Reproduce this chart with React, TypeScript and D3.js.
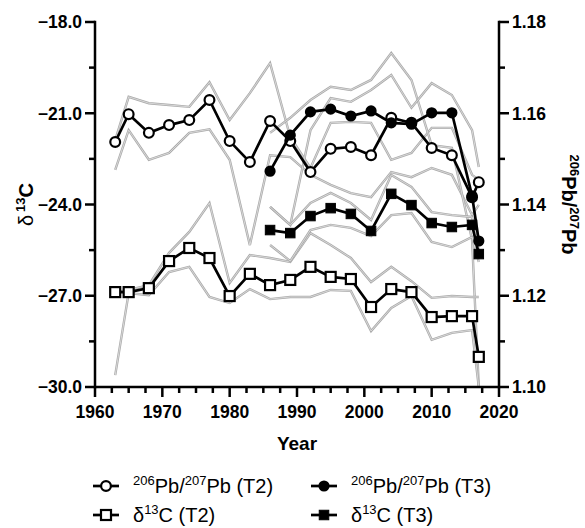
import React from "react";
import * as d3 from "d3";

// ---- data ----
const yearsT2 = [1963, 1965, 1968, 1971, 1974, 1977, 1980, 1983, 1986, 1989, 1992, 1995, 1998, 2001, 2004, 2007, 2010, 2013, 2016, 2017];
const yearsT3 = [1986, 1989, 1992, 1995, 1998, 2001, 2004, 2007, 2010, 2013, 2016, 2017];

const pbT2 = [1.1537, 1.1598, 1.1557, 1.1574, 1.1585, 1.1629, 1.1539, 1.1493, 1.1583, 1.1539, 1.1471, 1.1522, 1.1526, 1.1508, 1.159, 1.1579, 1.1524, 1.1508, 1.1416, 1.1449];
const pbT3 = [1.1473, 1.1552, 1.1603, 1.1609, 1.1594, 1.1605, 1.1579, 1.1576, 1.1601, 1.1601, 1.1419, 1.132];
const d13cT2 = [-26.88, -26.88, -26.75, -25.86, -25.43, -25.76, -27.01, -26.28, -26.65, -26.48, -26.05, -26.38, -26.45, -27.37, -26.78, -26.88, -27.7, -27.67, -27.67, -29.01];
const d13cT3 = [-24.84, -24.94, -24.38, -24.12, -24.31, -24.87, -23.65, -24.02, -24.61, -24.74, -24.67, -25.63];

// individual replicate series (grey)
const pbT2CoreA = [1.1541, 1.1636, 1.1622, 1.1618, 1.1614, 1.1668, 1.1585, 1.1644, 1.171, 1.1548, 1.148, 1.1579, 1.1581, 1.1579, 1.1498, 1.1513, 1.1568, 1.1568, 1.1465, 1.1454];
const pbT2CoreB = [1.1476, 1.1563, 1.1498, 1.1513, 1.1557, 1.1565, 1.1498, 1.1311, 1.1508, 1.1504, 1.1465, 1.1443, 1.1425, 1.1416, 1.1471, 1.146, 1.148, 1.1465, 1.1377, 1.1399];
const pbT3CoreA = [1.1557, 1.159, 1.1629, 1.1658, 1.1651, 1.1673, 1.1732, 1.1673, 1.153, 1.1524, 1.1322, 1.1];
const pbT3CoreB = [1.1395, 1.1355, 1.1563, 1.1633, 1.1625, 1.1651, 1.1684, 1.1612, 1.1666, 1.164, 1.1563, 1.1482];
const d13cT2CoreA = [-26.88, -26.81, -26.65, -25.59, -24.9, -23.95, -26.58, -25.66, -25.76, -25.89, -24.94, -25.33, -25.76, -26.55, -26.05, -26.52, -27.07, -27.01, -27.04, -27.04];
const d13cT2CoreB = [-29.61, -26.91, -26.98, -26.22, -26.05, -27.04, -27.24, -26.78, -27.11, -27.04, -27.04, -26.81, -26.84, -28.16, -27.4, -27.01, -28.45, -28.22, -28.13, -30.0];
const d13cT3CoreA = [-24.08, -24.67, -23.95, -23.62, -23.95, -24.51, -23.03, -23.42, -24.25, -24.35, -24.41, -25.5];
const d13cT3CoreB = [-25.33, -25.86, -24.84, -24.67, -24.77, -25.04, -24.35, -24.28, -25.23, -25.4, -25.07, -25.89];

const xTicks = [1960, 1970, 1980, 1990, 2000, 2010, 2020];
const leftTicks = [-30, -27, -24, -21, -18];
const rightTicks = [1.1, 1.12, 1.14, 1.16, 1.18];

// ---- layout ----
const W = 585, H = 528;
const X0 = 95, X1 = 499, Y0 = 22, Y1 = 387;
const FONT = "'Liberation Sans', Arial, Helvetica, sans-serif";

export default function App() {
  const x = d3.scaleLinear().domain([1960, 2020]).range([X0, X1]);
  const yL = d3.scaleLinear().domain([-30, -18]).range([Y1, Y0]);
  const yR = d3.scaleLinear().domain([1.1, 1.18]).range([Y1, Y0]);

  const lineOf = (xs: number[], ys: number[], sc: d3.ScaleLinear<number, number>) =>
    d3.line<number>().x((_, i) => x(xs[i])).y((v) => sc(v))(ys) || "";

  const greys = [
    lineOf(yearsT2, pbT2CoreA, yR),
    lineOf(yearsT2, pbT2CoreB, yR),
    lineOf(yearsT3, pbT3CoreA, yR),
    lineOf(yearsT3, pbT3CoreB, yR),
    lineOf(yearsT2, d13cT2CoreA, yL),
    lineOf(yearsT2, d13cT2CoreB, yL),
    lineOf(yearsT3, d13cT3CoreA, yL),
    lineOf(yearsT3, d13cT3CoreB, yL),
  ];

  const minorX = d3.range(1960, 2020.01, 2.5).filter((v) => v % 10 !== 0);
  const minorL = d3.range(-30, -17.99, 1.5).filter((v) => !leftTicks.includes(v));
  const minorR = [1.11, 1.13, 1.15, 1.17];

  const circ = (cx: number, cy: number, filled: boolean, k: string) => (
    <circle key={k} cx={cx} cy={cy} r={filled ? 4.5 : 4.9} fill={filled ? "#000" : "#fff"} stroke="#000" strokeWidth={2.2} />
  );
  const sq = (cx: number, cy: number, filled: boolean, k: string) => {
    const s = filled ? 9.5 : 10;
    return <rect key={k} x={cx - s / 2} y={cy - s / 2} width={s} height={s} fill={filled ? "#000" : "#fff"} stroke="#000" strokeWidth={filled ? 1 : 2.2} />;
  };

  const series = [
    { xs: yearsT2, ys: pbT2, sc: yR, mk: "c", filled: false },
    { xs: yearsT3, ys: pbT3, sc: yR, mk: "c", filled: true },
    { xs: yearsT2, ys: d13cT2, sc: yL, mk: "s", filled: false },
    { xs: yearsT3, ys: d13cT3, sc: yL, mk: "s", filled: true },
  ];

  const legendItems = [
    { lx: 93, ly: 486, mk: "c", filled: false, label: "pb", tree: "T2" },
    { lx: 311, ly: 486, mk: "c", filled: true, label: "pb", tree: "T3" },
    { lx: 93, ly: 515, mk: "s", filled: false, label: "c", tree: "T2" },
    { lx: 311, ly: 515, mk: "s", filled: true, label: "c", tree: "T3" },
  ];

  return (
    <svg width={W} height={H} style={{ position: "absolute", left: 0, top: 0, background: "#fff" }} fontFamily={FONT}>
      <defs>
        <clipPath id="plotclip">
          <rect x={X0} y={Y0} width={X1 - X0} height={Y1 - Y0 + 1} />
        </clipPath>
      </defs>
      {/* grey replicate lines */}
      <g clipPath="url(#plotclip)" fill="none" strokeLinejoin="miter">
        {greys.map((d, i) => (
          <g key={i}>
            <path d={d} stroke="#ababab" strokeWidth={2.4} />
            <path d={d} stroke="#e2e2e2" strokeWidth={0.8} />
          </g>
        ))}
      </g>
      {/* mean series */}
      {series.map((s, si) => (
        <g key={si}>
          <path d={lineOf(s.xs, s.ys, s.sc)} fill="none" stroke="#000" strokeWidth={2.7} />
          {s.ys.map((v, i) =>
            s.mk === "c" ? circ(x(s.xs[i]), s.sc(v), s.filled, `${si}-${i}`) : sq(x(s.xs[i]), s.sc(v), s.filled, `${si}-${i}`)
          )}
        </g>
      ))}

      {/* axes */}
      <g stroke="#000" strokeWidth={2.5} fill="none">
        <line x1={X0} y1={Y0 - 1.2} x2={X0} y2={Y1 + 1.2} />
        <line x1={X1} y1={Y0 - 1.2} x2={X1} y2={Y1 + 1.2} />
        <line x1={X0 - 1} y1={Y1} x2={X1 + 1} y2={Y1} />
        {leftTicks.map((t) => <line key={"lt" + t} x1={X0 - 10} x2={X0} y1={yL(t)} y2={yL(t)} />)}
        {minorL.map((t) => <line key={"lm" + t} x1={X0 - 6} x2={X0} y1={yL(t)} y2={yL(t)} />)}
        {rightTicks.map((t) => <line key={"rt" + t} x1={X1} x2={X1 + 10} y1={yR(t)} y2={yR(t)} />)}
        {minorR.map((t) => <line key={"rm" + t} x1={X1} x2={X1 + 6} y1={yR(t)} y2={yR(t)} />)}
        {xTicks.map((t) => <line key={"xt" + t} x1={x(t)} x2={x(t)} y1={Y1} y2={Y1 + 10} />)}
        {minorX.map((t) => <line key={"xm" + t} x1={x(t)} x2={x(t)} y1={Y1} y2={Y1 + 6} />)}
      </g>
      <g fontWeight="bold" fontSize={17.5} fill="#000">
        {leftTicks.map((t) => (
          <text key={"ll" + t} x={X0 - 13} y={yL(t)} dy="0.36em" textAnchor="end">{d3.format(".1f")(t)}</text>
        ))}
        {rightTicks.map((t) => (
          <text key={"rl" + t} x={X1 + 13} y={yR(t)} dy="0.36em" textAnchor="start">{d3.format(".2f")(t)}</text>
        ))}
        {xTicks.map((t) => (
          <text key={"xl" + t} x={x(t)} y={Y1 + 31} textAnchor="middle">{t}</text>
        ))}
        <text x={(X0 + X1) / 2} y={450} textAnchor="middle" fontSize={19}>Year</text>
      </g>
      {/* left title */}
      <text transform={`translate(33, ${(Y0 + Y1) / 2}) rotate(-90)`} textAnchor="middle" fontSize={20} fontWeight="bold">
        <tspan fontWeight="normal">δ</tspan>
        <tspan fontSize={13} dy={-8} dx={3}>13</tspan>
        <tspan dy={8}>C</tspan>
      </text>
      {/* right title */}
      <text transform={`translate(562, ${(Y0 + Y1) / 2}) rotate(90)`} textAnchor="middle" fontSize={20} fontWeight="bold">
        <tspan fontSize={13} dy={-8}>206</tspan>
        <tspan dy={8}>Pb/</tspan>
        <tspan fontSize={13} dy={-8}>207</tspan>
        <tspan dy={8}>Pb</tspan>
      </text>

      {/* legend */}
      {legendItems.map((it, i) => (
        <g key={"lg" + i}>
          <line x1={it.lx} x2={it.lx + 26} y1={it.ly} y2={it.ly} stroke="#000" strokeWidth={2.7} />
          {it.mk === "c" ? circ(it.lx + 13, it.ly, it.filled, "lm" + i) : sq(it.lx + 13, it.ly, it.filled, "lm" + i)}
          <text x={it.lx + 40} y={it.ly + 7} fontSize={20} fill="#000">
            {it.label === "pb" ? (
              <>
                <tspan fontSize={13} dy={-8}>206</tspan>
                <tspan dy={8}>Pb/</tspan>
                <tspan fontSize={13} dy={-8}>207</tspan>
                <tspan dy={8}>{`Pb (${it.tree})`}</tspan>
              </>
            ) : (
              <>
                <tspan>δ</tspan>
                <tspan fontSize={13} dy={-8}>13</tspan>
                <tspan dy={8}>{`C (${it.tree})`}</tspan>
              </>
            )}
          </text>
        </g>
      ))}
    </svg>
  );
}
